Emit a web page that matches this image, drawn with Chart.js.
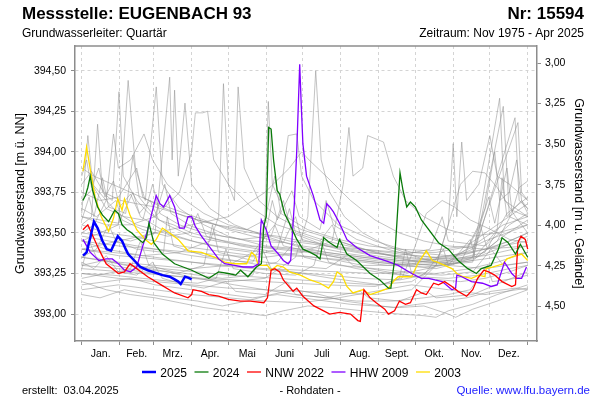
<!DOCTYPE html>
<html><head><meta charset="utf-8">
<script src="https://cdn.jsdelivr.net/npm/chart.js@4.4.0/dist/chart.umd.min.js"></script>
<style>html,body{margin:0;padding:0;background:#fff;}canvas{display:block;}</style>
</head><body>
<canvas id="c" width="600" height="400"></canvas>
<script>
// ---------- text ----------
const TITLE_LEFT = 'Messstelle: EUGENBACH 93';
const TITLE_RIGHT = 'Nr: 15594';
const SUB_LEFT = 'Grundwasserleiter: Quartär';
const SUB_RIGHT = 'Zeitraum: Nov 1975 - Apr 2025';
const Y_TITLE = 'Grundwasserstand [m ü. NN]';
const Y2_TITLE = 'Grundwasserstand [m u. Gelände]';
const FOOT_LEFT = 'erstellt:  03.04.2025';
const FOOT_MID = '- Rohdaten -';
const FOOT_RIGHT = 'Quelle: www.lfu.bayern.de';

// ---------- axes ----------
const MONTHS = ['Jan.','Feb.','Mrz.','Apr.','Mai','Juni','Juli','Aug.','Sept.','Okt.','Nov.','Dez.'];
const MONTH_STARTS = [0,31,59,90,120,151,181,212,243,273,304,334,365];
const LEFT_TICKS = [393.00,393.25,393.50,393.75,394.00,394.25,394.50];
const RIGHT_TICKS = [3.00,3.25,3.50,3.75,4.00,4.25,4.50];
const GROUND_LEVEL = 397.547;
const Y_MIN = 392.834, Y_MAX = 394.652;
const X_MIN = -5.5, X_MAX = 372.6;

// ---------- series [dayOfYear, level m ü. NN] ----------
const LEGEND_LABELS = ['2025','2024','NNW 2022','HHW 2009','2003'];

const y2025 = [[1,393.36],[4,393.38],[7,393.47],[10,393.57],[13,393.53],[17,393.45],[20.5,393.40],[24,393.39],[27,393.44],[29.5,393.48],[33,393.45],[36,393.40],[38,393.37],[43,393.33],[48,393.29],[54,393.27],[60,393.255],[66,393.24],[72,393.23],[76,393.214],[79,393.20],[81,393.185],[84.5,393.23],[87,393.225],[90,393.214]];

const y2024 = [[1,393.70],[3,393.73],[5,393.78],[7,393.85],[9,393.76],[13,393.66],[17,393.61],[22,393.57],[27,393.64],[30,393.62],[33,393.55],[37,393.52],[41,393.50],[45,393.47],[50,393.44],[53,393.47],[55,393.56],[57,393.50],[59,393.44],[66,393.37],[76,393.31],[90,393.27],[104,393.22],[110,393.25],[112,393.26],[120,393.25],[126,393.24],[130,393.27],[136,393.23],[143,393.29],[147,393.31],[149,393.54],[151,393.60],[153,394.15],[155,394.14],[157,393.95],[160,393.76],[162,393.74],[166,393.62],[170,393.56],[176,393.46],[181,393.40],[187,393.38],[192,393.36],[195,393.34],[198,393.47],[203,393.44],[209,393.41],[211,393.46],[217,393.37],[225,393.33],[236,393.25],[244,393.21],[251,393.16],[253,393.16],[256,393.33],[260.5,393.87],[263,393.76],[266,393.66],[269,393.69],[273,393.66],[278,393.58],[284,393.52],[292,393.44],[300,393.40],[308,393.33],[316,393.28],[323,393.25],[327,393.28],[335,393.30],[341,393.40],[344,393.47],[349,393.44],[355,393.37],[359,393.43],[365,393.35]];

const nnw2022 = [[1,393.52],[5,393.55],[8,393.50],[14,393.40],[20,393.31],[30,393.25],[35,393.26],[39.5,393.31],[45,393.28],[54,393.23],[65,393.18],[76,393.13],[87,393.10],[90,393.12],[91,393.15],[98,393.14],[104,393.12],[112,393.11],[120,393.09],[130,393.08],[138,393.08],[149,393.07],[152,393.10],[155,393.27],[158,393.28],[162,393.26],[165,393.21],[173,393.14],[176,393.16],[181,393.11],[190,393.05],[198,393.02],[203,393.00],[211,393.01],[220,393.00],[226,392.96],[228,392.955],[231,393.15],[236,393.10],[241,393.07],[248,393.03],[251,393.00],[256,393.02],[260,393.08],[265,393.06],[269,393.07],[274,393.15],[278,393.13],[282,393.12],[288,393.19],[292,393.18],[297,393.20],[303,393.17],[308,393.14],[315,393.11],[320,393.15],[324,393.22],[329,393.27],[333,393.26],[338,393.24],[344,393.20],[352,393.17],[355,393.18],[357,393.44],[359.5,393.48],[363,393.46],[365,393.40]];

const hhw2009 = [[1,393.46],[7,393.38],[14,393.33],[20,393.34],[25,393.34],[30,393.31],[35,393.27],[40,393.26],[45,393.29],[50,393.42],[54,393.52],[58,393.64],[61,393.73],[64,393.68],[67,393.66],[72,393.73],[76,393.66],[80,393.53],[84,393.53],[87,393.60],[90,393.60],[93,393.54],[98,393.48],[106,393.40],[112,393.34],[117,393.31],[125,393.30],[132,393.29],[140,393.29],[145,393.31],[146,393.48],[147,393.58],[151,393.52],[155,393.42],[161,393.37],[165,393.33],[169,393.31],[171,393.33],[174,393.68],[176,394.01],[178.4,394.54],[179.5,394.32],[181,394.05],[184,393.85],[189.5,393.73],[195,393.58],[198,393.56],[200.5,393.68],[203,393.66],[206,393.63],[211,393.56],[217,393.46],[225,393.41],[236,393.36],[244,393.34],[252,393.32],[259,393.30],[270,393.25],[278,393.22],[284,393.22],[289,393.21],[295,393.20],[303,393.15],[306,393.16],[307,393.24],[311,393.23],[319,393.20],[328,393.19],[335,393.17],[340,393.18],[346,393.32],[352,393.25],[356,393.22],[360,393.22],[364,393.29]];

const y2003 = [[1,393.88],[4,394.03],[7,393.89],[11,393.72],[16,393.60],[22,393.51],[26,393.59],[29.5,393.71],[33,393.64],[35,393.71],[39.5,393.61],[45,393.52],[52,393.46],[57,393.43],[61,393.46],[66,393.53],[72,393.50],[79,393.46],[87,393.39],[98,393.38],[109,393.35],[117,393.32],[125,393.31],[135,393.31],[139,393.38],[142,393.36],[144.5,393.30],[152,393.30],[155,393.27],[160,393.30],[165,393.29],[170,393.26],[179,393.24],[187,393.21],[195,393.19],[202,393.16],[206,393.20],[209,393.26],[213,393.24],[217,393.17],[222,393.13],[230,393.15],[236,393.12],[244,393.14],[251,393.16],[256,393.21],[259,393.23],[270,393.23],[275,393.31],[282,393.39],[287,393.33],[291,393.32],[297,393.30],[303,393.28],[307,393.25],[312,393.23],[319,393.22],[325,393.24],[330,393.23],[331,393.28],[336,393.29],[345,393.31],[348,393.34],[355,393.36],[360,393.37],[365,393.33]];

// other years of the record (grey)
const historyYears = [
 [[0,393.62],[5,394.10],[9,393.80],[20,393.70],[30,393.62],[45,393.55],[60,393.52],[75,393.48],[90,393.45],[110,393.42],[130,393.40],[150,393.38],[170,393.36],[190,393.35],[210,393.33],[230,393.30],[250,393.30],[270,393.31],[290,393.34],[310,393.36],[330,393.40],[350,393.45],[365,393.50]],
 [[0,393.55],[8,393.60],[13,394.17],[17,393.75],[25,393.70],[30.5,394.37],[34,393.85],[45,393.70],[55,393.62],[70,393.55],[90,393.48],[110,393.45],[135,393.42],[160,393.40],[185,393.38],[210,393.35],[240,393.32],[270,393.30],[300,393.32],[320,393.35],[342,394.33],[346,393.70],[365,393.60]],
 [[0,393.45],[15,393.50],[30,393.55],[38,394.44],[44,393.90],[52,393.70],[61,394.40],[66,393.80],[80,393.65],[100,393.55],[120,393.48],[150,393.42],[180,393.40],[200,393.38],[230,393.35],[260,393.32],[290,393.30],[320,393.32],[345,394.28],[350,393.60],[365,393.55]],
 [[0,393.50],[20,393.48],[40,393.45],[60,393.50],[72,394.46],[74,393.95],[76,394.38],[79,393.85],[84.5,394.30],[90,393.80],[105,393.65],[125,393.55],[150,393.48],[175,393.42],[200,393.38],[230,393.35],[260,393.33],[290,393.32],[320,393.35],[354.6,394.21],[358,393.70],[365,393.65]],
 [[0,393.60],[20,393.55],[40,393.55],[60,393.60],[80,393.75],[90,394.00],[93,394.24],[99,394.24],[103,394.25],[108,393.95],[120,393.80],[140,393.65],[160,393.55],[180,393.50],[200,393.45],[230,393.40],[260,393.37],[290,393.35],[320,393.38],[357,394.18],[360,393.75],[365,393.70]],
 [[0,393.40],[25,393.38],[50,393.36],[80,393.38],[105,393.45],[112,393.60],[116,394.42],[120,393.80],[125,393.70],[128,394.40],[133,393.90],[145,393.70],[160,393.60],[180,393.52],[210,393.45],[240,393.38],[270,393.33],[300,393.31],[330,393.34],[365,393.38]],
 [[0,393.35],[30,393.32],[60,393.30],[90,393.28],[120,393.30],[145,393.40],[150,393.60],[152.7,394.31],[156,393.80],[162,393.70],[169,394.10],[176,394.11],[180,393.85],[190,393.70],[210,393.55],[240,393.45],[270,393.38],[300,393.36],[330,393.40],[365,393.45]],
 [[0,393.30],[30,393.28],[60,393.25],[90,393.22],[120,393.20],[150,393.22],[175,393.35],[185,393.60],[191.5,394.50],[196,393.95],[203,393.75],[215,393.60],[230,393.50],[250,393.42],[275,393.35],[300,393.30],[330,393.28],[365,393.32]],
 [[0,393.45],[30,393.42],[60,393.40],[90,393.38],[120,393.36],[150,393.35],[180,393.38],[205,393.45],[214,393.80],[218.7,394.15],[222,393.85],[230,393.90],[234,394.10],[247,394.06],[255,393.85],[265,393.70],[280,393.60],[300,393.52],[320,393.48],[340,393.50],[365,393.55]],
 [[0,393.25],[30,393.22],[60,393.20],[90,393.18],[120,393.16],[150,393.15],[180,393.14],[210,393.13],[240,393.12],[270,393.15],[290,393.30],[300,393.55],[304,394.05],[307,393.60],[311,394.06],[315,393.70],[325,393.80],[334,394.10],[340,393.85],[350,393.80],[365,393.70]],
 [[0,393.35],[40,393.30],[80,393.27],[120,393.24],[160,393.22],[200,393.20],[240,393.18],[270,393.20],[290,393.30],[300,393.55],[310,393.80],[320,393.88],[330,393.87],[340,393.78],[355,393.60],[365,393.50]],
 [[0,393.20],[20,393.15],[40,393.12],[60,393.10],[80,393.07],[100,393.04],[120,393.02],[140,393.00],[150,392.99],[165,393.02],[185,393.05],[205,393.04],[230,393.02],[260,393.00],[280,392.99],[290,392.98],[300,393.02],[320,393.06],[340,393.12],[365,393.18]],
 [[0,393.12],[15,393.10],[35,393.15],[55,393.12],[75,393.10],[95,393.08],[115,393.05],[135,393.08],[155,393.12],[175,393.15],[195,393.12],[215,393.08],[235,393.06],[255,393.04],[275,393.06],[295,393.08],[315,393.10],[335,393.14],[355,393.16],[365,393.15]],
 [[0,393.70],[10,393.78],[20,393.65],[35,393.60],[50,393.58],[58,393.80],[64,393.62],[80,393.55],[100,393.50],[130,393.46],[155,393.48],[165,393.70],[172,393.50],[200,393.42],[230,393.38],[260,393.36],[285,393.40],[295,393.60],[300,393.45],[330,393.42],[350,393.55],[365,393.62]],
 [[0,393.50],[10,393.55],[20,393.70],[26,394.11],[30,393.90],[40,393.95],[51,394.11],[58,393.95],[70,393.80],[85,393.70],[100,393.62],[120,393.55],[145,393.50],[170,393.45],[200,393.42],[230,393.40],[260,393.38],[290,393.38],[320,393.42],[345,393.55],[365,393.60]],
 [[0,393.40],[30,393.45],[60,393.50],[90,393.55],[120,393.60],[150,393.75],[170,393.90],[180,394.00],[186,393.95],[200,393.85],[220,393.70],[240,393.58],[260,393.50],[280,393.45],[300,393.42],[330,393.40],[365,393.42]],
 [[0,393.28],[6,393.45],[12,393.35],[25,393.30],[40,393.28],[48,393.45],[55,393.30],[75,393.26],[95,393.24],[115,393.22],[140,393.24],[148,393.40],[155,393.28],[180,393.25],[205,393.22],[225,393.20],[245,393.18],[260,393.22],[265,393.40],[270,393.25],[295,393.24],[320,393.26],[335,393.40],[345,393.30],[365,393.32]],
 [[0,393.60],[15,393.58],[30,393.56],[42,393.75],[48,393.60],[70,393.50],[95,393.44],[120,393.40],[140,393.38],[158,393.55],[165,393.42],[190,393.38],[215,393.34],[240,393.32],[265,393.30],[290,393.28],[310,393.32],[326,393.55],[332,393.40],[350,393.45],[365,393.50]],
 [[0,393.40],[30,393.36],[60,393.34],[90,393.32],[120,393.30],[150,393.28],[180,393.27],[210,393.26],[240,393.25],[270,393.26],[295,393.30],[315,393.40],[325,393.55],[330,393.65],[338,394.00],[342,393.70],[350,393.75],[356,393.95],[360,393.70],[365,393.65]],
 [[0,393.18],[20,393.20],[40,393.22],[60,393.18],[80,393.16],[100,393.14],[120,393.12],[140,393.10],[160,393.12],[180,393.10],[200,393.08],[220,393.06],[240,393.05],[260,393.04],[280,393.05],[300,393.00],[306,392.98],[320,393.03],[340,393.08],[365,393.15]],
 [[0,393.80],[8,393.88],[18,393.75],[32,393.70],[45,393.68],[60,393.66],[78,393.62],[95,393.58],[110,393.55],[125,393.52],[140,393.50],[160,393.48],[180,393.45],[200,393.43],[220,393.40],[245,393.37],[270,393.34],[300,393.33],[330,393.38],[348,393.62],[365,393.72]],
 [[0,393.35],[12,393.40],[22,393.55],[28,393.45],[45,393.40],[67,393.38],[70,393.60],[75,393.42],[100,393.36],[125,393.33],[148,393.30],[160,393.32],[175,393.45],[182,393.35],[210,393.30],[240,393.28],[265,393.26],[290,393.25],[318,393.28],[340,393.32],[365,393.38]],
 [[0,393.90],[10,393.85],[25,393.80],[40,393.75],[55,393.70],[70,393.66],[85,393.62],[100,393.58],[120,393.52],[140,393.48],[160,393.45],[180,393.42],[200,393.40],[220,393.37],[240,393.35],[260,393.33],[280,393.32],[300,393.32],[320,393.34],[340,393.40],[365,393.48]],
 [[0,393.25],[25,393.24],[50,393.22],[75,393.20],[95,393.19],[110,393.22],[118,393.40],[124,393.28],[150,393.25],[175,393.24],[190,393.30],[196,393.45],[202,393.32],[225,393.28],[250,393.25],[275,393.23],[300,393.22],[325,393.24],[350,393.28],[365,393.30]],
 [[0,393.55],[20,393.50],[40,393.48],[60,393.45],[80,393.42],[100,393.40],[120,393.38],[140,393.36],[160,393.40],[170,393.65],[175,393.50],[195,393.45],[205,393.55],[210,393.45],[230,393.40],[255,393.36],[280,393.34],[305,393.36],[330,393.45],[355,393.52],[365,393.55]],
 [[0,393.15],[30,393.18],[60,393.15],[90,393.12],[120,393.10],[150,393.08],[180,393.07],[210,393.10],[240,393.14],[270,393.18],[300,393.15],[330,393.12],[365,393.16]],
 [[0,393.65],[12,393.60],[28,393.70],[33,393.58],[50,393.52],[70,393.48],[88,393.50],[95,393.62],[102,393.48],[130,393.42],[160,393.38],[190,393.35],[220,393.33],[250,393.30],[280,393.29],[305,393.31],[325,393.36],[345,393.48],[365,393.58]],
 [[0,393.30],[18,393.33],[36,393.30],[56,393.28],[78,393.25],[100,393.30],[107,393.55],[112,393.38],[140,393.33],[170,393.30],[200,393.28],[215,393.35],[222,393.30],[250,393.26],[280,393.22],[310,393.20],[330,393.22],[350,393.26],[365,393.30]],
 [[0,393.75],[15,393.70],[30,393.72],[45,393.90],[50,393.72],[65,393.66],[85,393.60],[110,393.55],[135,393.52],[150,393.58],[158,393.85],[163,393.62],[185,393.52],[210,393.46],[235,393.42],[260,393.40],[285,393.39],[315,393.42],[340,393.55],[365,393.68]],
 [[0,393.22],[20,393.25],[45,393.28],[70,393.26],[95,393.22],[125,393.18],[150,393.15],[175,393.12],[200,393.10],[225,393.08],[255,393.08],[280,393.10],[300,393.12],[318,393.15],[332,393.30],[336,393.20],[355,393.22],[365,393.24]],
 [[0,393.85],[4,393.95],[8,393.78],[14,393.90],[19,393.72],[26,393.82],[31,393.66],[40,393.74],[47,393.62],[56,393.70],[63,393.58],[75,393.55],[90,393.50],[110,393.46],[140,393.42],[170,393.40],[200,393.37],[230,393.34],[260,393.31],[290,393.30],[320,393.33],[340,393.45],[352,393.62],[358,393.78],[365,393.82]],
 [[0,393.58],[6,393.72],[10,393.60],[17,393.84],[22,393.66],[36,393.62],[42,393.98],[47,393.72],[60,393.60],[68,393.80],[73,393.62],[90,393.54],[115,393.48],[140,393.45],[165,393.44],[175,393.60],[180,393.46],[210,393.40],[240,393.36],[270,393.33],[300,393.34],[320,393.40],[333,393.72],[338,393.56],[348,393.90],[352,393.64],[365,393.60]],
 [[0,393.45],[20,393.40],[50,393.36],[80,393.33],[110,393.30],[140,393.28],[170,393.26],[200,393.24],[230,393.22],[260,393.21],[280,393.24],[296,393.40],[300,393.30],[318,393.46],[322,393.35],[340,393.52],[344,393.84],[348,393.60],[360,393.70],[365,393.62]],
 [[0,393.32],[10,393.28],[20,393.36],[30,393.26],[45,393.24],[58,393.32],[66,393.22],[85,393.18],[100,393.16],[118,393.20],[126,393.14],[150,393.12],[168,393.20],[175,393.12],[200,393.10],[228,393.14],[235,393.10],[260,393.08],[282,393.14],[290,393.10],[320,393.12],[345,393.20],[365,393.26]],
 [[0,393.48],[30,393.44],[60,393.40],[90,393.36],[120,393.33],[140,393.32],[150,393.48],[156,393.70],[160,393.58],[172,393.76],[178,393.60],[195,393.52],[200,393.70],[206,393.55],[225,393.46],[250,393.40],[270,393.36],[300,393.34],[330,393.36],[365,393.42]],
 [[0,393.28],[50,393.25],[100,393.22],[150,393.20],[200,393.18],[240,393.17],[262,393.22],[272,393.40],[282,393.62],[295,393.70],[305,393.66],[318,393.58],[335,393.52],[350,393.46],[365,393.44]]
];

// ---------- styles ----------
const FONT = "'Liberation Sans', Arial, Helvetica, sans-serif";
const COLORS = ['#0000ff','#0a7a0a','#ff0000','#8000ff','#ffdd00'];
const WIDTHS = [2.5,1.3,1.3,1.3,1.3];
const GREY = 'rgba(145,145,145,0.55)';
const GRID = '#d4d4d4';
const AXIS = '#8c8c8c';

const toXY = arr => arr.map(p => ({x: p[0], y: p[1]}));
const MAIN = [y2025, y2024, nnw2022, hhw2009, y2003];

const datasets = MAIN.map((s, i) => ({
  label: LEGEND_LABELS[i], data: toXY(s), borderColor: COLORS[i], borderWidth: WIDTHS[i],
  pointRadius: 0, tension: 0, fill: false
}));
historyYears.forEach((s, i) => datasets.push({
  label: 'hist' + i, data: toXY(s), borderColor: GREY, borderWidth: 1,
  pointRadius: 0, tension: 0, fill: false
}));

const MONTH_MIDS = MONTHS.map((m, i) => (MONTH_STARTS[i] + MONTH_STARTS[i + 1]) / 2);
const fmt = v => v.toFixed(2).replace('.', ',');

const decor = {
  id: 'decor',
  afterDraw(chart) {
    const ctx = chart.ctx, a = chart.chartArea;
    ctx.save();
    ctx.strokeStyle = AXIS; ctx.lineWidth = 1.5;
    ctx.beginPath(); ctx.moveTo(a.left, a.top); ctx.lineTo(a.right, a.top); ctx.stroke();
    ctx.fillStyle = '#000'; ctx.textBaseline = 'alphabetic';
    ctx.font = 'bold 17px ' + FONT;
    ctx.textAlign = 'left'; ctx.fillText(TITLE_LEFT, 22, 19);
    ctx.textAlign = 'right'; ctx.fillText(TITLE_RIGHT, 584, 19);
    ctx.font = '12px ' + FONT;
    ctx.textAlign = 'left'; ctx.fillText(SUB_LEFT, 22, 36.5);
    ctx.textAlign = 'right'; ctx.fillText(SUB_RIGHT, 584, 36.5);
    // legend
    ctx.font = '12px ' + FONT; ctx.textAlign = 'left';
    let x = 142;
    LEGEND_LABELS.forEach((lab, i) => {
      ctx.strokeStyle = COLORS[i]; ctx.lineWidth = i === 0 ? 2.5 : 1.3;
      ctx.beginPath(); ctx.moveTo(x, 372); ctx.lineTo(x + 14, 372); ctx.stroke();
      x += 18.3;
      ctx.fillStyle = '#000'; ctx.fillText(lab, x, 377);
      x += ctx.measureText(lab).width + 7.5;
    });
    // footer
    ctx.font = '11px ' + FONT; ctx.fillStyle = '#000';
    ctx.textAlign = 'left'; ctx.fillText(FOOT_LEFT, 22, 394);
    ctx.textAlign = 'center'; ctx.fillText(FOOT_MID, 310, 394);
    ctx.font = '11.5px ' + FONT; ctx.fillStyle = '#2222ff';
    ctx.textAlign = 'right'; ctx.fillText(FOOT_RIGHT, 590, 394);
    ctx.restore();
  }
};

new Chart(document.getElementById('c'), {
  type: 'line',
  data: { datasets },
  options: {
    responsive: false, animation: false, devicePixelRatio: 1,
    layout: { padding: { top: 46, left: 0, right: 0, bottom: 0 } },
    plugins: { legend: { display: false }, tooltip: { enabled: false }, title: { display: false } },
    scales: {
      x: {
        type: 'linear', position: 'bottom', min: X_MIN, max: X_MAX,
        afterBuildTicks: s => { s.ticks = MONTH_STARTS.concat(MONTH_MIDS).sort((a, b) => a - b).map(v => ({ value: v })); },
        afterFit: s => { s.height = 59; },
        grid: {
          color: c => (c.tick && MONTH_STARTS.includes(c.tick.value)) ? GRID : 'rgba(0,0,0,0)',
          tickColor: c => (c.tick && MONTH_STARTS.includes(c.tick.value)) ? AXIS : 'rgba(0,0,0,0)',
          tickLength: 4, lineWidth: 1
        },
        border: { display: true, color: AXIS, width: 1.5, dash: [3, 3] },
        ticks: {
          autoSkip: false, maxRotation: 0, minRotation: 0, padding: 3, color: '#000',
          font: { size: 10.5, family: FONT },
          callback: v => { const i = MONTH_MIDS.indexOf(v); return i >= 0 ? MONTHS[i] : ''; }
        }
      },
      y: {
        type: 'linear', position: 'left', min: Y_MIN, max: Y_MAX,
        afterBuildTicks: s => { s.ticks = LEFT_TICKS.map(v => ({ value: v })); },
        afterFit: s => { s.width = 75; },
        grid: { color: GRID, tickColor: AXIS, tickLength: 4, lineWidth: 1 },
        border: { display: true, color: AXIS, width: 1.5, dash: [3, 3] },
        ticks: { padding: 5, color: '#000', font: { size: 10.5, family: FONT }, callback: v => fmt(v) },
        title: { display: true, text: Y_TITLE, color: '#000', font: { size: 12.5, family: FONT }, padding: { top: 13, bottom: 0 } }
      },
      y2: {
        type: 'linear', position: 'right', reverse: true,
        min: GROUND_LEVEL - Y_MAX, max: GROUND_LEVEL - Y_MIN,
        afterBuildTicks: s => { s.ticks = RIGHT_TICKS.map(v => ({ value: v })); },
        afterFit: s => { s.width = 63; },
        grid: { drawOnChartArea: false, tickColor: AXIS, tickLength: 4 },
        border: { display: true, color: AXIS, width: 1.5 },
        ticks: { padding: 4, color: '#000', font: { size: 10.5, family: FONT }, callback: v => fmt(v) },
        title: { display: true, text: Y2_TITLE, color: '#000', font: { size: 12.5, family: FONT }, padding: { top: 14, bottom: 0 } }
      }
    }
  },
  plugins: [decor]
});
</script>
</body></html>
